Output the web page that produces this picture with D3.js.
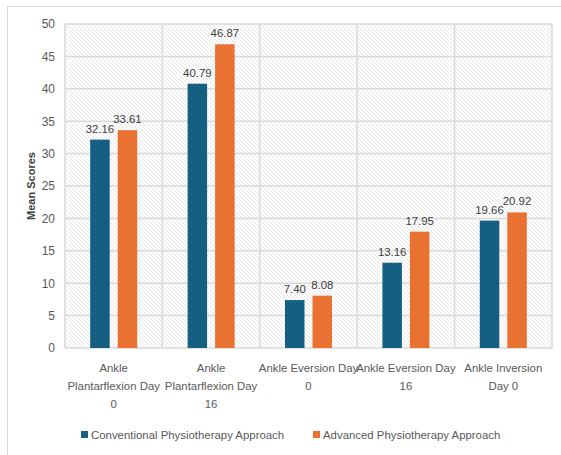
<!DOCTYPE html>
<html><head><meta charset="utf-8">
<script src="https://cdn.jsdelivr.net/npm/d3@7"></script>
<style>
html,body{margin:0;padding:0;background:#fff;}
svg{display:block;font-family:"Liberation Sans",Arial,sans-serif;}
</style></head>
<body>
<svg id="chart" width="561" height="455"></svg>
<script>
const categories = [
  ["Ankle", "Plantarflexion Day", "0"],
  ["Ankle", "Plantarflexion Day", "16"],
  ["Ankle Eversion Day", "0"],
  ["Ankle Eversion Day", "16"],
  ["Ankle Inversion", "Day 0"]
];
const seriesNames = ["Conventional Physiotherapy Approach", "Advanced Physiotherapy Approach"];
const conventional = [32.16, 40.79, 7.40, 13.16, 19.66];
const advanced = [33.61, 46.87, 8.08, 17.95, 20.92];
const yTicks = [0, 5, 10, 15, 20, 25, 30, 35, 40, 45, 50];
const colors = ["#156082", "#E97132"];

const svg = d3.select("#chart");
const pL = 65, pR = 552, pT = 24, pB = 348;
const fs = "11.4px";

// outer frame
svg.append("rect").attr("x", 7.5).attr("y", 6.5).attr("width", 570).attr("height", 470)
  .attr("fill", "#fff").attr("stroke", "#d9d9d9").attr("stroke-width", 1);

const defs = svg.append("defs");
const pat = defs.append("pattern").attr("id", "hatch").attr("patternUnits", "userSpaceOnUse")
  .attr("width", 4).attr("height", 4);
pat.append("rect").attr("width", 4).attr("height", 4).attr("fill", "#fff");
pat.append("path").attr("d", "M-1,-1 L5,5 M-1,3 L1,5 M3,-1 L5,1")
  .attr("stroke", "#e0e0e0").attr("stroke-width", 0.8);

const x = d3.scaleBand().domain(d3.range(categories.length)).range([pL, pR]);
const y = d3.scaleLinear().domain([0, 50]).range([pB, pT]);

svg.append("rect").attr("x", pL).attr("y", pT).attr("width", pR - pL).attr("height", pB - pT)
  .attr("fill", "url(#hatch)");

// gridlines
svg.append("g").selectAll("line").data(yTicks).join("line")
  .attr("x1", pL).attr("x2", pR).attr("y1", d => y(d)).attr("y2", d => y(d))
  .attr("stroke", "#d9d9d9").attr("stroke-width", 1.5);
svg.append("g").selectAll("line").data(d3.range(categories.length + 1)).join("line")
  .attr("x1", d => pL + d * x.step()).attr("x2", d => pL + d * x.step())
  .attr("y1", pT).attr("y2", pB)
  .attr("stroke", "#d9d9d9").attr("stroke-width", 1.5);

// y axis
const yAxis = d3.axisLeft(y).tickValues(yTicks).tickSize(0).tickPadding(10);
const gy = svg.append("g").attr("transform", `translate(${pL},0)`).call(yAxis);
gy.select(".domain").remove();
gy.selectAll("text").attr("fill", "#595959").style("font-size", "12px")
  .style("font-family", "'Liberation Sans',Arial,sans-serif");

svg.append("text").attr("transform", `translate(35,186) rotate(-90)`)
  .attr("text-anchor", "middle").attr("fill", "#404040")
  .style("font-size", "11px").style("font-weight", "bold")
  .text("Mean Scores");

// bars
const barW = 19.5, gap = 8;
const series = [conventional, advanced];
series.forEach((vals, si) => {
  const offset = si === 0 ? -(gap / 2 + barW) : gap / 2;
  const g = svg.append("g");
  g.selectAll("rect").data(vals).join("rect")
    .attr("x", (d, i) => x(i) + x.bandwidth() / 2 + offset)
    .attr("y", d => y(d))
    .attr("width", barW)
    .attr("height", d => y(0) - y(d))
    .attr("fill", colors[si]);
  g.selectAll("text").data(vals).join("text")
    .attr("x", (d, i) => x(i) + x.bandwidth() / 2 + offset + barW / 2)
    .attr("y", d => y(d) - 7)
    .attr("text-anchor", "middle").attr("fill", "#404040")
    .style("font-size", fs)
    .text(d => d.toFixed(2));
});

// x labels
const xl = svg.append("g");
categories.forEach((lines, i) => {
  const t = xl.append("text").attr("text-anchor", "middle").attr("fill", "#595959")
    .style("font-size", fs);
  lines.forEach((ln, j) => {
    t.append("tspan").attr("x", x(i) + x.bandwidth() / 2).attr("y", 372 + j * 18).text(ln);
  });
});

// legend
const legend = svg.append("g");
const legX = [81, 313];
seriesNames.forEach((n, i) => {
  legend.append("rect").attr("x", legX[i]).attr("y", 431).attr("width", 7).attr("height", 7).attr("fill", colors[i]);
  legend.append("text").attr("x", legX[i] + 10).attr("y", 439).attr("fill", "#595959")
    .style("font-size", fs).text(n);
});
</script>
</body></html>
